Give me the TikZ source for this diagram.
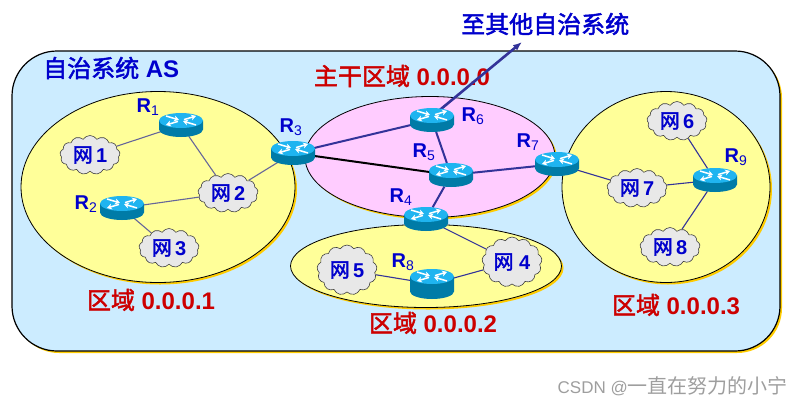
\documentclass[tikz,border=0pt]{standalone}
\usepackage{fontspec}
\setmainfont{Liberation Sans}
\newfontfamily\cjk{Noto Sans CJK SC}
\newfontfamily\cjkheavy[FakeBold=2]{Noto Sans CJK SC}
\usetikzlibrary{arrows.meta,shadows,shapes.geometric,shapes.symbols}

\definecolor{skyfill}{HTML}{CCECFF}
\definecolor{areafill}{HTML}{FFFF99}
\definecolor{corefill}{HTML}{FFCCFF}
\definecolor{goldedge}{HTML}{FFCC00}
\definecolor{labelblue}{HTML}{0000CC}
\definecolor{labelred}{HTML}{CC0000}
\definecolor{linkblue}{HTML}{333399}
\definecolor{linkgrey}{HTML}{666699}
\definecolor{routertop}{HTML}{1FB4F0}
\definecolor{routerside}{HTML}{007BA7}

\newcommand{\zh}[1]{{\mdseries\cjkheavy #1}}
\newcommand{\Rsub}[1]{R\textsubscript{\mdseries #1}}

\begin{document}
\begin{tikzpicture}[
  x=1pt, y=-1pt,
  every node/.style={align=center, inner sep=0pt},
  gold/.style={copy shadow={fill=goldedge, draw=none, shadow xshift=2pt, shadow yshift=-2pt}},
  region/.style={ellipse, draw=black, line width=0.8pt, fill=areafill, gold},
  router/.style={ellipse, minimum width=44pt, minimum height=24pt},
  net/.style={cloud, cloud puffs=13, cloud puff arc=115, aspect=1.5, draw=black!75, line width=0.6pt, fill=black!9, minimum width=60pt, minimum height=39pt, text=labelblue, font=\bfseries\fontsize{20}{22}\selectfont},
  rname/.style={text=labelblue, font=\bfseries\fontsize{20}{22}\selectfont},
  areaname/.style={text=labelred, font=\bfseries\fontsize{24}{26}\selectfont},
  link/.style={linkblue, line width=1.1pt},
  thinlink/.style={linkgrey, line width=1.1pt},
  trunk/.style={linkblue, line width=2pt},
  arrowmark/.style={white, line width=1.5pt, -{Stealth[length=5pt,width=6pt]}}
]
\useasboundingbox (0,0) rectangle (802,405);

% --- AUTONOMOUS SYSTEM ---
\node[rectangle, rounded corners=45pt, draw=black, line width=1.2pt, fill=skyfill, gold, minimum width=768pt, minimum height=300pt] (as) at (396,201) {};

% --- AREAS ---
\node[region, minimum width=274pt, minimum height=191pt] (area1) at (158,187) {};
\node[region, fill=corefill, minimum width=250pt, minimum height=121pt] (core) at (430,157) {};
\node[region, minimum width=271pt, minimum height=83pt] (area2) at (426,266) {};
\node[region, minimum width=208pt, minimum height=191pt] (area3) at (666,187) {};

% --- TEXTS ---
\node[anchor=west, text=labelblue, font=\bfseries\fontsize{24}{26}\selectfont] (astext) at (43,68) {\zh{自治系统} AS};
\node[anchor=west, text=labelblue, font=\bfseries\fontsize{24}{26}\selectfont] (othertext) at (461,24) {\zh{至其他自治系统}};
\node[areaname] (coretext) at (402,76) {\zh{主干区域} 0.0.0.0};
\node[areaname] (area1text) at (151,300) {\zh{区域} 0.0.0.1};
\node[areaname] (area2text) at (433,323) {\zh{区域} 0.0.0.2};
\node[areaname] (area3text) at (676,305) {\zh{区域} 0.0.0.3};
\node[anchor=east, text=black!38, font=\fontsize{17}{19}\selectfont] (mark) at (788,386) {CSDN @{\fontsize{20}{22}\selectfont\cjk 一直在努力的小宁}};

% --- ROUTERS ---
\node[router] (r1) at (181,125) {};
\node[router] (r2) at (122,208) {};
\node[router] (r3) at (293,153) {};
\node[router] (r4) at (426,219) {};
\node[router] (r5) at (451,175) {};
\node[router] (r6) at (432,120) {};
\node[router] (r7) at (557,164) {};
\node[router, minimum height=30pt] (r8) at (432,284) {};
\node[router] (r9) at (715,180) {};

\foreach \name/\num/\where in {r1/1/{148,107}, r2/2/{86,204}, r3/3/{291,127}, r4/4/{401,197}, r5/5/{424,152}, r6/6/{473,116}, r7/7/{528,142}, r8/8/{403,262}, r9/9/{736,157}}
  \node[rname] (\name text) at (\where) {\Rsub{\num}};

% --- NETWORKS ---
\node[net] (n1) at (90,155) {\zh{网}\,1};
\node[net] (n2) at (228,193) {\zh{网}\,2};
\node[net] (n3) at (169,248) {\zh{网}\,3};
\node[net, minimum height=50pt] (n4) at (512,262) {\zh{网} 4};
\node[net, minimum height=50pt] (n5) at (347,270) {\zh{网}\,5};
\node[net] (n6) at (677,121) {\zh{网}\,6};
\node[net] (n7) at (637,188) {\zh{网}\,7};
\node[net] (n8) at (670,247) {\zh{网}\,8};

% --- LINKS ---
\foreach \from/\to in {r1/n1, r1/n2, r2/n2, r2/n3, r3/n2}
  \draw[thinlink] (\from) -- (\to);
\foreach \from/\to in {r4/n4, r8/n4, r8/n5, r7/n7, r9/n7, r9/n6, r9/n8}
  \draw[link] (\from) -- (\to);
\foreach \from/\to in {r3/r6, r6/r5, r5/r7, r5/r4}
  \draw[trunk] (\from) -- (\to);
\draw[black, line width=2pt] (r3) -- (r5);

% --- EXIT ARROW ---
\coordinate (exit) at (522,42);
\draw[trunk, line width=2.6pt, -{Latex[length=9pt,width=7pt]}] (r6.north) ++(8,2) -- (exit);

% --- ROUTER BODIES ---
\foreach \name/\drop in {r1/4.5,r2/4.5,r3/4.5,r4/4.5,r5/4.5,r6/4.5,r7/4.5,r8/7.5,r9/4.5} {
  \fill[routerside] ([shift={(-22,-\drop)}]\name.center) -- ([shift={(-22,\drop)}]\name.center)
    arc[start angle=180, end angle=360, x radius=22pt, y radius=7.5pt] -- ([shift={(22,-\drop)}]\name.center) -- cycle;
  \coordinate (c) at ([shift={(0,-\drop)}]\name.center);
  \fill[routertop] (c) ellipse[x radius=22pt, y radius=7.5pt];
  \draw[arrowmark] ([shift={(-15,-4.5)}]c) -- ([shift={(-2,-0.6)}]c);
  \draw[arrowmark] ([shift={(15,4.5)}]c) -- ([shift={(2,0.6)}]c);
  \draw[arrowmark] ([shift={(-3,0.9)}]c) -- ([shift={(-15,4.5)}]c);
  \draw[arrowmark] ([shift={(3,-0.9)}]c) -- ([shift={(15,-4.5)}]c);
}
\end{tikzpicture}
\end{document}
